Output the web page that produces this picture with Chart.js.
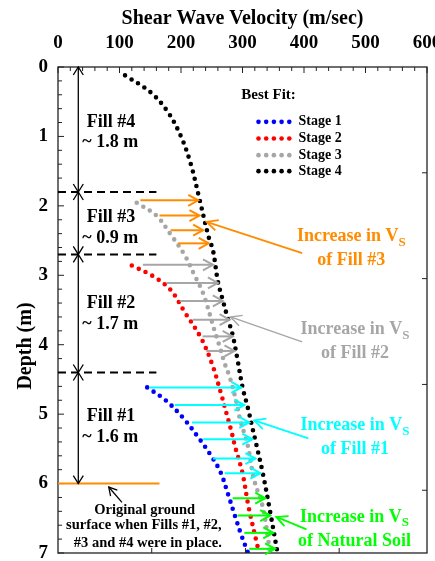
<!DOCTYPE html>
<html>
<head>
<meta charset="utf-8">
<script src="https://cdn.jsdelivr.net/npm/chart.js@4.4.0/dist/chart.umd.min.js"></script>
<style>
  html, body { margin: 0; padding: 0; background: #fff; }
  #wrap { width: 435px; height: 561px; }
</style>
</head>
<body>
<div id="wrap"><canvas id="vs" width="435" height="561"></canvas></div>
<script>
// Best-fit shear wave velocity profiles (depth in m, Vs in m/sec)
const stage1Depth = [4.615, 4.80, 5.06, 5.37, 5.64, 5.85, 6.14, 6.50, 6.74, 7.0];
const stage1Vs    = [145, 175, 204, 231, 252, 265, 276, 289, 298, 309];
const stage2Depth = [2.86, 3.01, 3.21, 3.53, 3.91, 4.29, 4.70, 4.99, 5.25, 5.47, 5.85, 6.34, 7.0];
const stage2Vs    = [120, 154, 183, 206, 233, 251, 265, 274, 282, 288, 300, 310, 327];
const stage3Depth = [1.955, 2.14, 2.41, 2.71, 3.0, 3.26, 3.81, 4.03, 4.27, 4.46, 4.82, 5.04, 5.28, 5.47, 5.95, 6.34, 7.0];
const stage3Vs    = [128, 160, 183, 206, 222, 236, 255, 263, 271, 279, 290, 295, 303, 309, 319, 333, 345];
const stage4Depth = [0.12, 0.36, 0.64, 1.0, 1.4, 1.9, 2.45, 2.64, 3.09, 3.36, 3.62, 3.86, 4.22, 4.61, 4.92, 5.23, 5.42, 5.85, 6.36, 7.0];
const stage4Vs    = [109, 150, 178, 200, 216, 230, 245, 252, 260, 268, 276, 284, 292, 300, 309, 317, 322, 333, 344, 357];

// Fill layer boundaries (m) and thicknesses
const layerTops   = [0, 1.8, 2.7, 4.4];
const layerBottom = [1.8, 2.7, 4.4, 6.0];
const layerNames  = ['Fill #4', 'Fill #3', 'Fill #2', 'Fill #1'];
const layerThick  = ['~ 1.8 m', '~ 0.9 m', '~ 1.7 m', '~ 1.6 m'];

// Vs increase arrows: depth, start Vs, end Vs
const fill3Depth = [1.92, 2.14, 2.35, 2.54];
const fill3From  = [134, 165, 183, 195];
const fill3To    = [228, 230, 236, 245];
const fill2Depth = [2.85, 3.11, 3.37, 3.64, 3.88, 4.09];
const fill2From  = [138, 177, 198, 219, 235, 241];
const fill2To    = [252, 260, 268, 279, 284, 287];
const fill1Depth = [4.615, 4.87, 5.12, 5.36, 5.64, 5.85];
const fill1From  = [149, 190, 218, 236, 252, 271];
const fill1To    = [298, 303, 311, 316, 321, 329];
const soilDepth  = [6.21, 6.46, 6.71, 6.94];
const soilFrom   = [284, 292, 303, 311];
const soilTo     = [337, 345, 350, 353];

// secondary (imperial) tick marks on bottom and right frame
const ftPerSecTicks = [500, 1000, 1500];
const feetTicks = [5, 10, 15, 20];

const SERIF = '"Liberation Serif", "Times New Roman", serif';
const ORANGE = '#ff8c00', GREY = '#a6a6a6', CYAN = '#00ffff', GREEN = '#00ff00';

const pts = (d, v) => d.map((y, i) => ({ x: v[i], y }));

function dotted(label, color, d, v) {
  return {
    label, data: pts(d, v), showLine: true,
    borderColor: color, backgroundColor: color,
    borderWidth: 4.6, borderDash: [0, 7.6], borderCapStyle: 'round',
    pointRadius: 0, tension: 0.35, fill: false
  };
}

function head(ctx, x1, y1, x2, y2, len, half) {
  const a = Math.atan2(y2 - y1, x2 - x1);
  const c = Math.cos(a), s = Math.sin(a);
  ctx.beginPath();
  ctx.moveTo(x2 - len * c + half * s, y2 - len * s - half * c);
  ctx.lineTo(x2, y2);
  ctx.lineTo(x2 - len * c - half * s, y2 - len * s + half * c);
  ctx.stroke();
}

function arrow(ctx, x1, y1, x2, y2, len, half) {
  ctx.beginPath();
  ctx.moveTo(x1, y1);
  ctx.lineTo(x2, y2);
  ctx.stroke();
  head(ctx, x1, y1, x2, y2, len, half);
}

function vsLabel(ctx, cx, cy, color) {
  ctx.fillStyle = color;
  ctx.textBaseline = 'middle';
  ctx.textAlign = 'left';
  ctx.font = 'bold 18px ' + SERIF;
  const main = 'Increase in V';
  const w1 = ctx.measureText(main).width;
  ctx.font = 'bold 13px ' + SERIF;
  const w2 = ctx.measureText('S').width;
  const x0 = cx - (w1 + w2) / 2;
  ctx.font = 'bold 18px ' + SERIF;
  ctx.fillText(main, x0, cy);
  ctx.font = 'bold 13px ' + SERIF;
  ctx.fillText('S', x0 + w1, cy + 6);
}

const annotations = {
  id: 'annotations',
  afterDatasetsDraw(chart) {
    const { ctx, chartArea: a, scales } = chart;
    const X = v => scales.x.getPixelForValue(v);
    const Y = d => scales.y.getPixelForValue(d);
    ctx.save();
    ctx.lineCap = 'butt';
    ctx.lineJoin = 'miter';

    // frame
    ctx.strokeStyle = '#222';
    ctx.lineWidth = 1.3;
    ctx.strokeRect(a.left, a.top, a.right - a.left, a.bottom - a.top);

    // inward tick marks
    ctx.lineWidth = 1;
    ctx.beginPath();
    for (let v = 0; v <= 600; v += 20) {
      const len = v % 100 === 0 ? 6 : 4;
      ctx.moveTo(X(v), a.top); ctx.lineTo(X(v), a.top + len);
    }
    for (let i = 0; i <= 35; i++) {
      const d = i * 0.2;
      const len = i % 5 === 0 ? 6 : 4;
      ctx.moveTo(a.left, Y(d)); ctx.lineTo(a.left + len, Y(d));
    }
    feetTicks.forEach(ft => {
      ctx.moveTo(a.right, Y(ft * 0.3048)); ctx.lineTo(a.right - 5, Y(ft * 0.3048));
    });
    ftPerSecTicks.forEach(f => {
      ctx.moveTo(X(f * 0.3048), a.bottom); ctx.lineTo(X(f * 0.3048), a.bottom - 5);
    });
    ctx.stroke();

    // axis titles
    ctx.fillStyle = '#000';
    ctx.font = 'bold 20px ' + SERIF;
    ctx.textAlign = 'center';
    ctx.textBaseline = 'middle';
    ctx.fillText('Shear Wave Velocity (m/sec)', (a.left + a.right) / 2, 19);
    ctx.save();
    ctx.translate(26, 346);
    ctx.rotate(-Math.PI / 2);
    ctx.font = 'bold 20px ' + SERIF;
    ctx.fillText('Depth (m)', 0, 0);
    ctx.restore();

    // layer boundaries
    ctx.strokeStyle = '#000';
    ctx.lineWidth = 2;
    ctx.setLineDash([8, 5]);
    [1.8, 2.7, 4.4].forEach(d => {
      ctx.beginPath();
      ctx.moveTo(X(0), Y(d)); ctx.lineTo(X(160), Y(d));
      ctx.stroke();
    });
    ctx.setLineDash([]);
    ctx.strokeStyle = ORANGE;
    ctx.beginPath();
    ctx.moveTo(X(0), Y(6.0)); ctx.lineTo(X(165), Y(6.0));
    ctx.stroke();

    // layer thickness arrows and labels
    ctx.strokeStyle = '#000';
    ctx.lineWidth = 1.3;
    const ax = X(33);
    layerTops.forEach((top, i) => {
      const y1 = Y(top), y2 = Y(layerBottom[i]);
      arrow(ctx, ax, y1, ax, y2, 8, 5);
      head(ctx, ax, y2, ax, y1, 8, 5);
    });
    ctx.fillStyle = '#000';
    ctx.font = 'bold 18px ' + SERIF;
    ctx.textAlign = 'center';
    ctx.textBaseline = 'middle';
    const nameDepth = [0.79, 2.17, 3.40, 5.03];
    nameDepth.forEach((d, i) => {
      ctx.fillText(layerNames[i], X(86), Y(d));
      ctx.fillText(layerThick[i], X(85), Y(d + 0.3));
    });

    // original ground surface note
    ctx.font = 'bold 14.5px ' + SERIF;
    ctx.fillText('Original ground', X(141), Y(6.38));
    ctx.fillText('surface when Fills #1, #2,', X(139.5), Y(6.60));
    ctx.fillText('#3 and #4 were in place.', X(146), Y(6.86));
    ctx.lineWidth = 1.3;
    arrow(ctx, X(104), Y(6.27), X(82.5), Y(6.05), 8, 4.5);

    // legend
    ctx.textAlign = 'left';
    ctx.font = 'bold 15px ' + SERIF;
    ctx.fillText('Best Fit:', X(298), Y(0.40));
    ctx.font = 'bold 14px ' + SERIF;
    const rows = [0.79, 1.03, 1.27, 1.50];
    chart.data.datasets.forEach((ds, i) => {
      const y = Y(rows[i]);
      ctx.fillStyle = ds.borderColor;
      for (let k = 0; k < 5; k++) {
        ctx.beginPath();
        ctx.arc(X(326) + k * 7.7, y, 2.3, 0, Math.PI * 2);
        ctx.fill();
      }
      ctx.fillStyle = '#000';
      ctx.fillText(ds.label, X(391), y);
    });

    // increase arrows
    const groups = [
      [fill3Depth, fill3From, fill3To, ORANGE],
      [fill2Depth, fill2From, fill2To, GREY],
      [fill1Depth, fill1From, fill1To, CYAN],
      [soilDepth, soilFrom, soilTo, GREEN]
    ];
    ctx.lineWidth = 2;
    groups.forEach(([dep, from, to, color]) => {
      ctx.strokeStyle = color;
      dep.forEach((d, i) => arrow(ctx, X(from[i]), Y(d), X(to[i]), Y(d), 10, 5.5));
    });

    // callouts
    const callouts = [
      [ORANGE, [397, 2.68], [241.6, 2.23], [477, 2.44], 'of Fill #3', 1.8],
      [GREY, [397, 3.96], [280.5, 3.60], [483, 3.78], 'of Fill #2', 1.4],
      [CYAN, [407, 5.35], [319, 5.09], [483, 5.16], 'of Fill #1', 1.8],
      [GREEN, [404, 6.66], [355, 6.48], [482, 6.48], 'of Natural Soil', 1.8]
    ];
    callouts.forEach(([color, p1, p2, t, second, lw]) => {
      ctx.strokeStyle = color;
      ctx.lineWidth = lw;
      arrow(ctx, X(p1[0]), Y(p1[1]), X(p2[0]), Y(p2[1]), 11, 5.5);
      vsLabel(ctx, X(t[0]), Y(t[1]), color);
      ctx.font = 'bold 18px ' + SERIF;
      ctx.textAlign = 'center';
      ctx.fillText(second, X(t[0]), Y(t[1] + 0.35));
    });

    ctx.restore();
  }
};

// keep the plot box fixed: no extra room for overhanging edge labels
function fixBox(size, key) {
  return s => {
    s[key] = size;
    s.paddingLeft = 0; s.paddingRight = 0;
    s.paddingTop = 0; s.paddingBottom = 0;
  };
}

new Chart(document.getElementById('vs'), {
  type: 'scatter',
  data: {
    datasets: [
      dotted('Stage 1', '#0000ff', stage1Depth, stage1Vs),
      dotted('Stage 2', '#ff0000', stage2Depth, stage2Vs),
      dotted('Stage 3', '#a6a6a6', stage3Depth, stage3Vs),
      dotted('Stage 4', '#000000', stage4Depth, stage4Vs)
    ]
  },
  options: {
    responsive: false,
    animation: false,
    devicePixelRatio: 1,
    layout: { padding: { left: 0, top: 0, right: 8, bottom: 8 } },
    plugins: { legend: { display: false }, tooltip: { enabled: false } },
    scales: {
      x: {
        position: 'top', min: 0, max: 600,
        afterFit: fixBox(67, 'height'),
        grid: { display: false, drawTicks: false },
        border: { display: false },
        ticks: { stepSize: 100, color: '#000', padding: 13, font: { family: SERIF, size: 19, weight: 'bold' } }
      },
      y: {
        reverse: true, min: 0, max: 7,
        afterFit: fixBox(58, 'width'),
        grid: { display: false, drawTicks: false },
        border: { display: false },
        ticks: { stepSize: 1, color: '#000', padding: 10, font: { family: SERIF, size: 19, weight: 'bold' } }
      }
    }
  },
  plugins: [annotations]
});
</script>
</body>
</html>
